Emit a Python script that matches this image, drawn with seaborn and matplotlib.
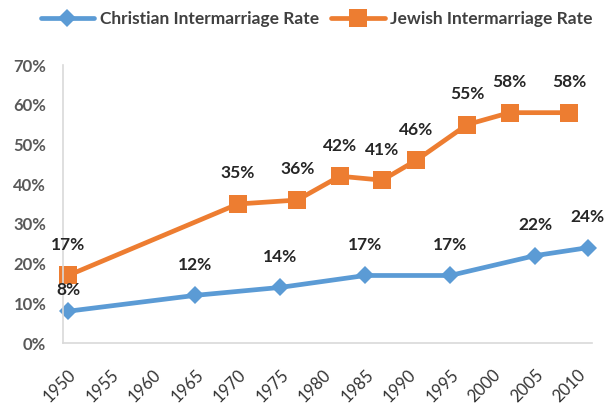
import matplotlib
matplotlib.use("Agg")
import matplotlib.pyplot as plt
import seaborn as sns
import pandas as pd
from matplotlib.ticker import FuncFormatter

sns.set_style("white")
plt.rcParams['font.family'] = ['Lato', 'DejaVu Sans']

christian_years = [1950, 1965, 1975, 1985, 1995, 2005, 2011.2]
christian_rates = [0.08, 0.12, 0.14, 0.17, 0.17, 0.22, 0.24]
jewish_years = [1950, 1970, 1977, 1982, 1987, 1991, 1997, 2002, 2009]
jewish_rates = [0.17, 0.35, 0.36, 0.42, 0.41, 0.46, 0.55, 0.58, 0.58]
tick_years = list(range(1950, 2011, 5))
series_names = ["Christian Intermarriage Rate", "Jewish Intermarriage Rate"]

blue = "#5B9BD5"
orange = "#ED7D31"

df_c = pd.DataFrame({"year": christian_years, "rate": christian_rates})
df_j = pd.DataFrame({"year": jewish_years, "rate": jewish_rates})

fig = plt.figure(figsize=(6.1, 4.05), dpi=100)
ax = fig.add_axes([63/610, 1-343/405, (592-63)/610, (343-65)/405])

sns.lineplot(data=df_c, x="year", y="rate", ax=ax, color=blue, lw=3.4,
             marker="D", markersize=9.5, markeredgewidth=0, label=series_names[0],
             clip_on=False, legend=False)
sns.lineplot(data=df_j, x="year", y="rate", ax=ax, color=orange, lw=3.4,
             marker="s", markersize=12.5, markeredgewidth=0, label=series_names[1],
             clip_on=False, legend=False)

for xs, ys in ((christian_years, christian_rates), (jewish_years, jewish_rates)):
    for i, (x, y) in enumerate(zip(xs, ys)):
        dy = 15.5 if (ys is christian_rates and i == 0) else 22
        ax.annotate(f"{round(y*100):d}%", (x, y), xytext=(0, dy), textcoords="offset points",
                    ha="center", va="center", fontsize=12.5, fontweight="bold", color="#262626",
                    zorder=5)

ax.set_xlim(1949.4, 2011.7)
ax.set_ylim(0, 0.70)
ax.set_yticks([i/10 for i in range(8)])
ax.yaxis.set_major_formatter(FuncFormatter(lambda v, p: f"{round(v*100):d}%"))
ax.set_xticks(tick_years)
ax.set_xticklabels([str(t) for t in tick_years], rotation=45, ha="right",
                   rotation_mode="anchor", fontsize=12, color="#333333")
for lab in ax.get_yticklabels():
    lab.set_fontweight("bold")
    lab.set_fontsize(12)
    lab.set_color("#595959")
ax.tick_params(axis="y", length=0, pad=12)
ax.tick_params(axis="x", length=0, pad=17)
ax.set_xlabel("")
ax.set_ylabel("")
for s in ("top", "right"):
    ax.spines[s].set_visible(False)
for s in ("left", "bottom"):
    ax.spines[s].set_color("#d9d9d9")
    ax.spines[s].set_linewidth(1.2)

handles, labels = ax.get_legend_handles_labels()
fig.legend(handles, labels, loc="center", bbox_to_anchor=(316.5/610, 1-19/405), ncol=2,
           frameon=False, prop={"weight": "bold", "size": 12.5}, handlelength=3.1,
           handletextpad=0.3, columnspacing=0.7, labelcolor="#404040")

fig.savefig("out.png", dpi=100)
